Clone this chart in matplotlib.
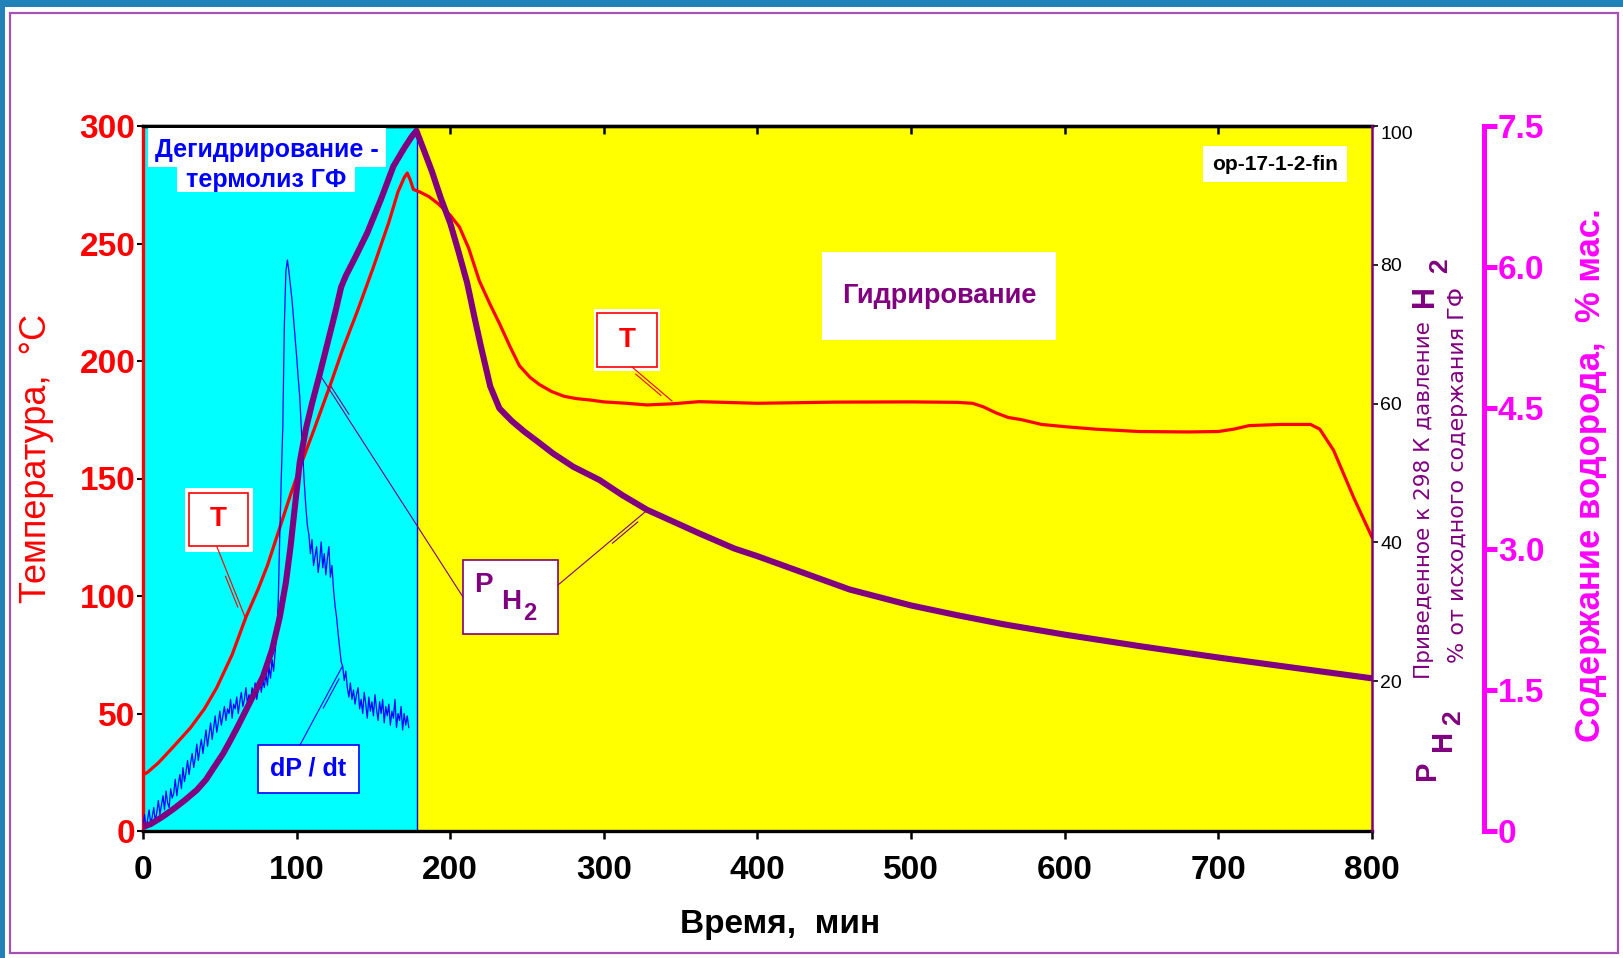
import matplotlib
matplotlib.use('Agg')
import matplotlib.pyplot as plt
from matplotlib.patches import Rectangle
from matplotlib.lines import Line2D
import numpy as np

plt.rcParams['font.family'] = ['Liberation Sans', 'DejaVu Sans']

# temperature, deg C
t_temp = [0, 3, 10, 20, 31, 40, 48, 58, 67, 75, 81, 89, 96, 104, 112, 122, 130, 140, 150, 160,
          166, 170, 172, 174, 176, 180, 186, 192, 200, 206, 212, 219, 226, 232, 239, 245, 252, 258,
          266, 274, 282, 291, 300, 315, 328, 345, 362, 400, 450, 500, 530, 540, 547, 555, 563, 572,
          585, 601, 620, 648, 680, 700, 710, 720, 740, 760, 766, 775, 788, 800]
temp = [24, 25, 29, 36, 44, 52, 61, 75, 91, 103, 113, 129, 143, 158, 172, 190, 205, 222, 240, 259,
        272, 278, 280, 277, 273, 272, 270, 267, 262, 257, 248, 234, 224, 216, 206, 198, 193, 190,
        187, 185, 184, 183.4, 182.6, 182, 181.3, 181.8, 182.7, 182, 182.5, 182.6, 182.4, 182, 180.5,
        178, 176, 175, 173, 172, 171, 170, 169.8, 170, 171, 172.5, 173, 173, 171, 162, 142, 125]

# H2 pressure reduced to 298 K, % of initial hydride content
t_ph2 = [0, 5, 13, 20, 27, 35, 41, 46, 52, 57, 62, 67, 72, 78, 84, 89, 93, 96, 99, 102, 106, 110,
         115, 120, 125, 129, 132, 138, 146, 155, 163, 170, 175, 178, 182, 188, 194, 200, 205, 211,
         216, 220, 226, 232, 240, 248, 257, 267, 280, 297, 312, 328, 345, 362, 385, 400, 430, 460,
         500, 530, 560, 600, 650, 700, 750, 800]
ph2 = [-1.0, -0.6, 0.5, 1.6, 2.8, 4.3, 5.8, 7.5, 9.5, 11.5, 13.6, 15.8, 18.0, 20.6, 24.5, 29.2,
       34.2, 39.3, 45.4, 51.5, 56.3, 60.0, 64.2, 68.6, 73.0, 76.8, 78.4, 81.0, 84.6, 89.5, 94.2,
       96.8, 98.5, 99.3, 97.0, 93.5, 89.5, 86.0, 82.2, 77.4, 72.2, 68.2, 62.5, 59.3, 57.5, 56.0,
       54.5, 52.8, 50.9, 49.0, 46.8, 44.7, 43.0, 41.3, 39.1, 38.0, 35.6, 33.2, 30.9, 29.5, 28.2,
       26.7, 25.0, 23.4, 21.9, 20.4]

# dP/dt, arbitrary units (drawn on the temperature scale), one reading per minute
t_dpdt = list(range(0, 174))
dpdt = [2, 7, 1, 5, 9, 3, 6, 10, 4, 8,
        13, 7, 11, 15, 9, 17, 12, 10, 18, 14,
        16, 22, 15, 20, 24, 18, 27, 21, 25, 30,
        24, 29, 33, 27, 31, 37, 30, 35, 39, 33,
        38, 43, 36, 41, 46, 39, 44, 49, 42, 46,
        51, 45, 49, 53, 47, 52, 50, 56, 48, 54,
        52, 57, 50, 55, 59, 53, 56, 61, 54, 58,
        55, 61, 57, 63, 56, 60, 65, 59, 64, 61,
        67, 62, 70, 65, 73, 68, 76, 84, 97, 125,
        150, 172, 215, 238, 243, 238, 232, 226, 218, 210,
        202, 193, 185, 172, 160, 148, 138, 130, 126, 118,
        124, 113, 117, 121, 110, 115, 123, 112, 118, 109,
        116, 121, 108, 113, 103, 96, 91, 84, 78, 72,
        70, 64, 68, 61, 57, 63, 56, 60, 54, 58,
        61, 52, 56, 50, 59, 54, 48, 57, 51, 55,
        49, 58, 52, 47, 55, 50, 56, 46, 53, 49,
        54, 45, 51, 48, 56, 44, 50, 47, 53, 43,
        50, 45, 49, 44]

t_switch = 178.5  # end of dehydriding, start of hydriding
x_ticks = [0, 100, 200, 300, 400, 500, 600, 700, 800]
temp_ticks = [0, 50, 100, 150, 200, 250, 300]
p_ticks = [20, 40, 60, 80, 100]
h_ticks = [0, 1.5, 3.0, 4.5, 6.0, 7.5]
h_labels = ['0', '1.5', '3.0', '4.5', '6.0', '7.5']

RED = '#FF0000'
BLUE = '#0000FF'
PURPLE = '#800080'
MAGENTA = '#FF00FF'

W, H = 1624, 958
fig = plt.figure(figsize=(W / 100, H / 100), dpi=100)


def fp(x, y):
    return (x / W, 1 - y / H)


def rect(x0, y0, x1, y1, fc='white', ec='none', lw=0.0):
    fig.add_artist(Rectangle(fp(x0, y1), (x1 - x0) / W, (y1 - y0) / H, transform=fig.transFigure,
                             fc=fc, ec=ec, lw=lw))


def label(x, y, s, **kw):
    fig.text(x / W, 1 - y / H, s, ha='center', va='center', **kw)


def seg(p, q, color):
    fig.add_artist(Line2D([p[0] / W, q[0] / W], [1 - p[1] / H, 1 - q[1] / H],
                          transform=fig.transFigure, color=color, lw=0.8))


def leader(x0, y0, x1, y1, color):
    # line from the caption box (x0, y0) to the curve (x1, y1), doubled near the curve
    seg((x0, y0), (x1, y1), color)
    d = np.array([x1 - x0, y1 - y0], float)
    u = d / np.hypot(*d)
    n = np.array([-u[1], u[0]]) * 3
    end = np.array([x1, y1], float)
    seg(end - 45 * u + n, end - 12 * u + n, color)


# window frame
rect(0, 0, W, 7, fc='#2181B9')
rect(0, 0, 5, H, fc='#2181B9')
rect(10, 13, 1618, 953, fc='none', ec='#A552B5', lw=1.6)

ax = fig.add_axes([143 / W, 1 - 831 / H, 1229 / W, 705 / H])
ax.set_xlim(0, 800)
ax.set_ylim(0, 300)
ax.axvspan(0, t_switch, color='#00FFFF', lw=0, zorder=0)
ax.axvspan(t_switch, 800, color='#FFFF00', lw=0, zorder=0)
ax.axvline(t_switch, color=BLUE, lw=1)
ax.plot(t_temp, temp, color=RED, lw=2.3, zorder=3)
ax.plot(t_dpdt, dpdt, color=BLUE, lw=0.9, zorder=4)

for side in ['top', 'bottom']:
    ax.spines[side].set_color('black')
    ax.spines[side].set_linewidth(2.4)
ax.spines['left'].set_color(RED)
ax.spines['left'].set_linewidth(2.4)
ax.spines['right'].set_visible(False)

ax.set_xticks(x_ticks, [str(v) for v in x_ticks], fontweight='bold')
ax.set_yticks(temp_ticks, [str(v) for v in temp_ticks], fontweight='bold')
ax.tick_params(axis='x', direction='out', length=6, width=1.8, colors='black', labelsize=24, pad=11)
ax.tick_params(axis='y', direction='out', length=4, width=1.5, color='black',
               labelcolor=RED, labelsize=24, pad=1.5)

top = ax.secondary_xaxis('top')
top.set_xticks(x_ticks[1:-1], [])
top.tick_params(direction='in', length=6, width=1.8, colors='black')
top.spines['top'].set_linewidth(2.4)

# pressure axis
ax2 = ax.twinx()
ax2.set_ylim(-1.6, 100)
ax2.plot(t_ph2, ph2, color=PURPLE, lw=4.4, solid_joinstyle='round')
for side in ['left', 'top', 'bottom']:
    ax2.spines[side].set_visible(False)
ax2.spines['right'].set_color(PURPLE)
ax2.spines['right'].set_linewidth(1.8)
ax2.set_yticks(p_ticks, [str(v) for v in p_ticks])
ax2.tick_params(axis='y', direction='out', length=4, width=1.2, color='black',
                labelcolor='black', labelsize=14, pad=2)
ax2.yaxis.get_major_ticks()[-1].label2.set_verticalalignment('top')

# hydrogen content axis
ax3 = ax.twinx()
ax3.set_ylim(0, 7.5)
for side in ['left', 'top', 'bottom']:
    ax3.spines[side].set_visible(False)
ax3.spines['right'].set_position(('axes', (1484 - 143) / 1229))
ax3.spines['right'].set_color(MAGENTA)
ax3.spines['right'].set_linewidth(3.6)
ax3.set_yticks(h_ticks, h_labels, fontweight='bold')
ax3.tick_params(axis='y', direction='out', length=9, width=3.6, colors=MAGENTA,
                labelsize=24, pad=1)

# axis titles
label(37, 458, 'Температура,  °C', rotation=90, color=RED, fontsize=26)
label(780, 924, 'Время,  мин', color='black', fontsize=24, fontweight='bold')
label(1591, 475, 'Содержание водорода,  % мас.', rotation=90, color=MAGENTA, fontsize=25,
      fontweight='bold')
label(1424, 500, 'Приведенное к 298 К давление', rotation=90, color=PURPLE, fontsize=15.5,
      family='DejaVu Sans')
label(1425, 296, 'H', rotation=90, color=PURPLE, fontsize=22, fontweight='bold')
label(1440, 266, '2', rotation=90, color=PURPLE, fontsize=19, fontweight='bold')
label(1458, 475, '% от исходного содержания ГФ', rotation=90, color=PURPLE, fontsize=16,
      family='DejaVu Sans')
label(1427, 770, 'P', rotation=90, color=PURPLE, fontsize=21, fontweight='bold')
label(1443, 740, 'H', rotation=90, color=PURPLE, fontsize=21, fontweight='bold')
label(1453, 718, '2', rotation=90, color=PURPLE, fontsize=19, fontweight='bold')

# in-plot captions
rect(148, 128, 386, 167)
rect(177, 167, 355, 192)
label(267, 150, 'Дегидрирование -', color=BLUE, fontsize=18, fontweight='bold')
label(266, 180, 'термолиз ГФ', color=BLUE, fontsize=18, fontweight='bold')

rect(1203, 146, 1347, 182)
label(1275, 164, 'op-17-1-2-fin', color='black', fontsize=15, fontweight='bold')

rect(822, 252, 1056, 340)
label(939, 296, 'Гидрирование', color=PURPLE, fontsize=19.5, fontweight='bold')

# T labels
rect(185, 488, 253, 552)
rect(189, 493, 248, 546, fc='white', ec=RED, lw=1.2)
label(218, 519, 'T', color=RED, fontsize=20, fontweight='bold')
leader(217, 547, 245, 617, RED)

rect(594, 309, 660, 371)
rect(597, 313, 657, 367, fc='white', ec=RED, lw=1.2)
label(627, 340, 'T', color=RED, fontsize=20, fontweight='bold')
leader(632, 367, 672, 401, RED)

# P H2 label
rect(463, 560, 558, 634, fc='white', ec=PURPLE, lw=1.2)
label(483, 585, 'P', color=PURPLE, fontsize=20, fontweight='bold')
label(511, 602, 'H', color=PURPLE, fontsize=20, fontweight='bold')
label(530, 614, '2', color=PURPLE, fontsize=17, fontweight='bold')
leader(463, 597, 322, 378, PURPLE)
leader(558, 585, 645, 512, PURPLE)

# dP/dt label
rect(258, 745, 359, 793, fc='white', ec=BLUE, lw=1.2)
label(308, 769, 'dP / dt', color=BLUE, fontsize=18, fontweight='bold')
leader(300, 745, 342, 667, BLUE)

fig.savefig('out.png', dpi=100, facecolor='white')
